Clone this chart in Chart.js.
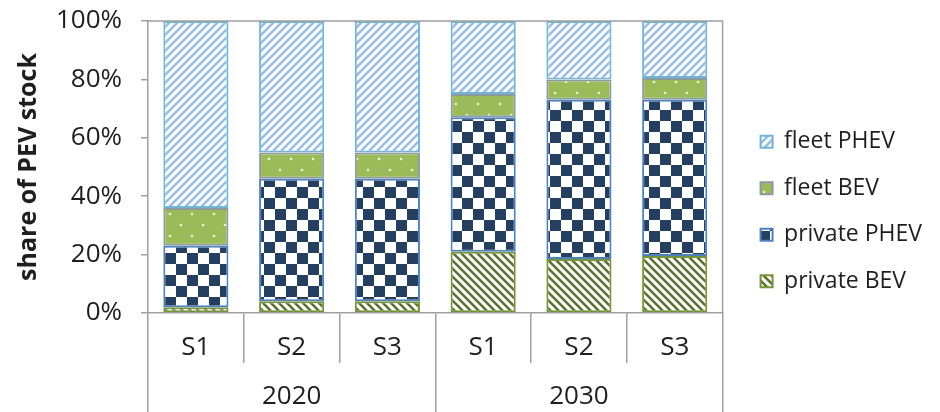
<!DOCTYPE html>
<html>
<head>
<meta charset="utf-8">
<script src="https://cdn.jsdelivr.net/npm/chart.js@4.4.0/dist/chart.umd.min.js"></script>
<style>
  html, body { margin: 0; padding: 0; background: #fff; }
  #wrap { width: 940px; height: 412px; }
</style>
</head>
<body>
<div id="wrap"><canvas id="pevChart" width="940" height="412"></canvas></div>
<script>
// data (share of PEV stock, %)
const scenarios = ['S1', 'S2', 'S3', 'S1', 'S2', 'S3'];
const years = ['2020', '2030'];
const privateBEV = [2, 4, 4, 21, 18.5, 19.5];
const privatePHEV = [21, 42, 42, 46, 54.5, 53.5];
const fleetBEV = [13, 9, 9, 8, 7, 7.5];
const fleetPHEV = [64, 45, 45, 25, 20, 19.5];
const yTicks = [0, 20, 40, 60, 80, 100];

const axisGray = '#a0a0a0';
const textDark = '#1e1e1e';
const fontFamily = "'Open Sans', 'Noto Sans', sans-serif";

// pattern helpers
function makePattern(size, draw) {
    const c = document.createElement('canvas');
    c.width = size;
    c.height = size;
    const g = c.getContext('2d');
    draw(g, size);
    return g.createPattern(c, 'repeat');
}

function stripes(bg, fg, up) {
    return makePattern(8, (g, s) => {
        g.fillStyle = bg;
        g.fillRect(0, 0, s, s);
        g.strokeStyle = fg;
        g.lineWidth = 2.6;
        g.beginPath();
        if (up) {
            g.moveTo(-2, s + 2); g.lineTo(s + 2, -2);
            g.moveTo(-2, 2); g.lineTo(2, -2);
            g.moveTo(s - 2, s + 2); g.lineTo(s + 2, s - 2);
        } else {
            g.moveTo(-2, -2); g.lineTo(s + 2, s + 2);
            g.moveTo(s - 2, -2); g.lineTo(s + 2, 2);
            g.moveTo(-2, s - 2); g.lineTo(2, s + 2);
        }
        g.stroke();
    });
}

const fleetPHEVFill = stripes('#ffffff', '#99bce6', true);
const privateBEVFill = stripes('#ffffff', '#5b712f', false);

const fleetBEVFill = makePattern(22, (g, s) => {
    g.fillStyle = '#9bbb59';
    g.fillRect(0, 0, s, s);
    g.fillStyle = '#eef4e2';
    [[5, 5], [16, 16]].forEach(([x, y]) => {
        g.beginPath();
        g.arc(x, y, 1.3, 0, Math.PI * 2);
        g.fill();
    });
});

const privatePHEVFill = makePattern(22, (g, s) => {
    g.fillStyle = '#ffffff';
    g.fillRect(0, 0, s, s);
    g.fillStyle = '#243f60';
    g.fillRect(0, 0, 11, 11);
    g.fillRect(11, 11, 11, 11);
});

// frame on top and right of the plot area
const plotFrame = {
    id: 'plotFrame',
    afterDatasetsDraw(chart) {
        const {ctx, chartArea: a} = chart;
        ctx.save();
        ctx.strokeStyle = axisGray;
        ctx.lineWidth = 1.5;
        ctx.beginPath();
        ctx.moveTo(a.left, a.top);
        ctx.lineTo(a.right, a.top);
        ctx.lineTo(a.right, a.bottom);
        ctx.stroke();
        ctx.restore();
    }
};

function initPevChart() {
    const ctx = document.getElementById('pevChart').getContext('2d');
    new Chart(ctx, {
        type: 'bar',
        data: {
            labels: scenarios,
            datasets: [{
                label: 'private BEV',
                data: privateBEV,
                backgroundColor: privateBEVFill,
                borderColor: '#77933c'
            }, {
                label: 'private PHEV',
                data: privatePHEV,
                backgroundColor: privatePHEVFill,
                borderColor: '#4f81bd'
            }, {
                label: 'fleet BEV',
                data: fleetBEV,
                backgroundColor: fleetBEVFill,
                borderColor: '#8a9ba2'
            }, {
                label: 'fleet PHEV',
                data: fleetPHEV,
                backgroundColor: fleetPHEVFill,
                borderColor: '#72b6d3'
            }]
        },
        options: {
            responsive: false,
            animation: false,
            datasets: {
                bar: {
                    borderWidth: 2,
                    borderSkipped: false,
                    categoryPercentage: 1,
                    barPercentage: 0.68
                }
            },
            layout: { padding: { left: 0, top: 11, right: 8, bottom: 0 } },
            font: { family: fontFamily },
            plugins: {
                legend: {
                    position: 'right',
                    reverse: true,
                    labels: {
                        boxWidth: 12,
                        boxHeight: 12,
                        padding: 23.5,
                        color: textDark,
                        font: { family: fontFamily, size: 23 }
                    }
                },
                tooltip: { enabled: false }
            },
            scales: {
                x: {
                    stacked: true,
                    offset: true,
                    grid: { offset: true, drawOnChartArea: false, tickLength: 50, color: axisGray, lineWidth: 1.5 },
                    border: { color: axisGray, width: 1.5 },
                    ticks: { padding: -31, autoSkip: false, maxRotation: 0, color: textDark, font: { family: fontFamily, size: 26 } },
                    afterFit: (scale) => { scale.height = 50; }
                },
                year: {
                    type: 'category',
                    position: 'bottom',
                    labels: years,
                    offset: true,
                    grid: { offset: true, drawOnChartArea: false, tickLength: 49, color: axisGray, lineWidth: 1.5 },
                    border: { display: false },
                    ticks: { padding: -31, maxRotation: 0, color: textDark, font: { family: fontFamily, size: 26 } },
                    afterFit: (scale) => { scale.height = 49; }
                },
                y: {
                    stacked: true,
                    min: 0,
                    max: 100,
                    afterBuildTicks: (scale) => { scale.ticks = yTicks.map(v => ({ value: v })); },
                    ticks: { padding: 19, color: textDark, font: { family: fontFamily, size: 26 }, callback: v => v + '%' },
                    grid: { drawOnChartArea: false, tickLength: 7, color: axisGray, lineWidth: 1.5 },
                    border: { color: axisGray, width: 1.5 },
                    title: {
                        display: true,
                        text: 'share of PEV stock',
                        color: textDark,
                        font: { family: fontFamily, size: 25, weight: 'bold' },
                        padding: { top: 14, bottom: 8 }
                    },
                    afterFit: (scale) => {
                        scale.width = 148;
                        scale.paddingTop = 21;
                    }
                },
                gap: {
                    position: 'right',
                    display: false,
                    afterFit: (scale) => { scale.width = 14.5; }
                }
            }
        },
        plugins: [plotFrame]
    });
}

document.addEventListener('DOMContentLoaded', () => {
    initPevChart();
});
</script>
</body>
</html>
